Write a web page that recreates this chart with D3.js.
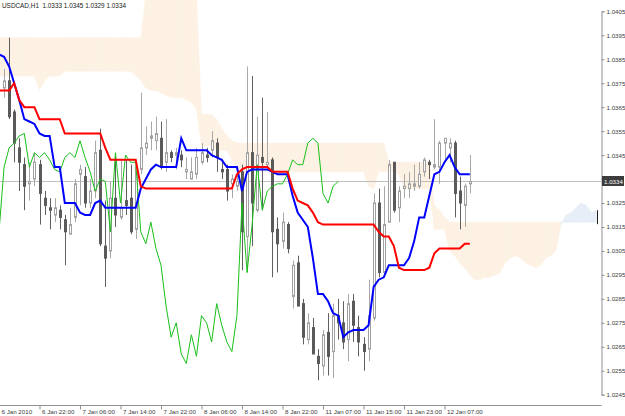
<!DOCTYPE html>
<html>
<head>
<meta charset="utf-8">
<script src="https://cdn.jsdelivr.net/npm/d3@7"></script>
<style>
	body {margin:0; background:#fff;}
	svg {display:block;}
	text {font-family:"Liberation Sans", Arial, sans-serif;}
</style>
</head>
<body>
<svg id="chart" width="625" height="416"></svg>
<script>

//USDCAD H1 candles, bar 1 .. 93
var firstBar = 1;
var opens = [1.0373,1.0376,1.0363,1.0348,1.0341,1.0333,1.0335,1.0341,1.0327,1.0323,1.0320,1.0322,1.0318,1.0312,1.0319,1.0337,1.0336,1.0325,1.0330,1.0347,1.0307,1.0305,1.0327,1.0319,1.0326,1.0327,1.0314,1.0339,1.0348,1.0352,1.0351,1.0352,1.0342,1.0346,1.0345,1.0345,1.0338,1.0335,1.0337,1.0342,1.0345,1.0347,1.0350,1.0339,1.0339,1.0333,1.0332,1.0338,1.0311,1.0346,1.0322,1.0344,1.0341,1.0343,1.0314,1.0309,1.0316,1.0286,1.0300,1.0283,1.0268,1.0273,1.0261,1.0257,1.0271,1.0263,1.0278,1.0275,1.0268,1.0284,1.0273,1.0266,1.0264,1.0277,1.0325,1.0296,1.0317,1.0342,1.0323,1.0331,1.0331,1.0332,1.0332,1.0338,1.0342,1.0340,1.0340,1.0350,1.0348,1.0350,1.0330,1.0324,1.0333];
var highs = [1.0381,1.0394,1.0364,1.0352,1.0344,1.0342,1.0346,1.0343,1.0330,1.0327,1.0327,1.0324,1.0320,1.0323,1.0335,1.0341,1.0340,1.0335,1.0351,1.0356,1.0326,1.0334,1.0345,1.0343,1.0343,1.0341,1.0342,1.0371,1.0357,1.0359,1.0361,1.0359,1.0360,1.0347,1.0348,1.0347,1.0344,1.0344,1.0348,1.0350,1.0348,1.0355,1.0352,1.0343,1.0341,1.0337,1.0338,1.0341,1.0382,1.0378,1.0361,1.0369,1.0363,1.0344,1.0319,1.0321,1.0317,1.0301,1.0303,1.0285,1.0279,1.0277,1.0264,1.0272,1.0279,1.0283,1.0285,1.0284,1.0287,1.0287,1.0278,1.0269,1.0293,1.0329,1.0331,1.0332,1.0343,1.0342,1.0332,1.0337,1.0338,1.0341,1.0342,1.0344,1.0343,1.0360,1.0351,1.0352,1.0352,1.0351,1.0336,1.0333,1.0345];
var lows = [1.0369,1.0360,1.0342,1.0330,1.0322,1.0326,1.0332,1.0316,1.0320,1.0314,1.0317,1.0314,1.0299,1.0312,1.0317,1.0324,1.0323,1.0323,1.0327,1.0307,1.0290,1.0302,1.0315,1.0318,1.0320,1.0312,1.0310,1.0337,1.0345,1.0347,1.0347,1.0339,1.0338,1.0342,1.0339,1.0340,1.0335,1.0335,1.0335,1.0341,1.0342,1.0344,1.0338,1.0335,1.0326,1.0327,1.0330,1.0297,1.0296,1.0307,1.0321,1.0322,1.0340,1.0294,1.0296,1.0306,1.0304,1.0281,1.0282,1.0266,1.0266,1.0262,1.0251,1.0253,1.0253,1.0252,1.0268,1.0264,1.0259,1.0267,1.0261,1.0255,1.0259,1.0276,1.0294,1.0294,1.0317,1.0321,1.0317,1.0327,1.0327,1.0330,1.0331,1.0336,1.0335,1.0339,1.0333,1.0343,1.0342,1.0319,1.0314,1.0315,1.0329];
var closes = [1.0376,1.0361,1.0350,1.0342,1.0332,1.0334,1.0342,1.0329,1.0324,1.0322,1.0323,1.0319,1.0313,1.0316,1.0333,1.0339,1.0325,1.0330,1.0346,1.0308,1.0302,1.0327,1.0320,1.0323,1.0324,1.0313,1.0340,1.0348,1.0350,1.0353,1.0354,1.0340,1.0346,1.0344,1.0346,1.0343,1.0339,1.0338,1.0344,1.0346,1.0344,1.0351,1.0344,1.0338,1.0330,1.0335,1.0334,1.0313,1.0346,1.0325,1.0345,1.0342,1.0342,1.0313,1.0308,1.0317,1.0306,1.0299,1.0282,1.0269,1.0275,1.0262,1.0258,1.0270,1.0261,1.0278,1.0275,1.0267,1.0283,1.0274,1.0267,1.0263,1.0278,1.0325,1.0296,1.0316,1.0341,1.0322,1.0330,1.0332,1.0333,1.0333,1.0337,1.0343,1.0341,1.0341,1.0350,1.0352,1.0350,1.0329,1.0325,1.0332,1.0334];

//ichimoku lines, bar 0 ..
var tenkan = [1.0387,1.0386,1.0382,1.0375,1.0368,1.0360,1.0359,1.0358,1.0354,1.0353,1.0353,1.0340,1.0340,1.0325,1.0325,1.0325,1.0321,1.0320,1.0320,1.0325,1.0326,1.0323,1.0323,1.0323,1.0323,1.0323,1.0323,1.0323,1.0331,1.0335,1.0339,1.0341,1.0340,1.0340,1.0340,1.0340,1.0352,1.0347,1.0347,1.0347,1.0347,1.0347,1.0345,1.0344,1.0343,1.0340,1.0340,1.0340,1.0330,1.0338,1.0339,1.0339,1.0339,1.0339,1.0338,1.0337,1.0337,1.0337,1.0328,1.0321,1.0318,1.0315,1.0302,1.0287,1.0287,1.0284,1.0279,1.0278,1.0269,1.0271,1.0272,1.0272,1.0272,1.0274,1.0290,1.0293,1.0294,1.0299,1.0299,1.0299,1.0299,1.0302,1.0309,1.0319,1.0319,1.0328,1.0337,1.0338,1.0342,1.0345,1.0340,1.0337,1.0337,1.0337];
var kijun = [1.0372,1.0372,1.0372,1.0375,1.0368,1.0365,1.0365,1.0365,1.0360,1.0360,1.0360,1.0360,1.0360,1.0354,1.0354,1.0354,1.0354,1.0354,1.0354,1.0354,1.0354,1.0348,1.0343,1.0343,1.0343,1.0343,1.0343,1.0343,1.0332,1.0331,1.0331,1.0331,1.0331,1.0331,1.0331,1.0331,1.0331,1.0331,1.0331,1.0331,1.0331,1.0331,1.0331,1.0331,1.0331,1.0331,1.0331,1.0337,1.0339,1.0340,1.0340,1.0340,1.0340,1.0340,1.0338,1.0338,1.0338,1.0338,1.0331,1.0326,1.0325,1.0324,1.0321,1.0317,1.0316,1.0316,1.0316,1.0316,1.0316,1.0316,1.0316,1.0316,1.0316,1.0316,1.0316,1.0313,1.0311,1.0311,1.0307,1.0298,1.0297,1.0297,1.0297,1.0297,1.0297,1.0298,1.0304,1.0306,1.0306,1.0306,1.0306,1.0306,1.0308,1.0308];
var chikou = [1.0313,1.0340,1.0348,1.0350,1.0353,1.0354,1.0340,1.0346,1.0344,1.0346,1.0343,1.0339,1.0338,1.0344,1.0346,1.0344,1.0351,1.0344,1.0338,1.0330,1.0335,1.0334,1.0313,1.0346,1.0325,1.0345,1.0342,1.0342,1.0313,1.0308,1.0317,1.0306,1.0299,1.0282,1.0269,1.0275,1.0262,1.0258,1.0270,1.0261,1.0278,1.0275,1.0267,1.0283,1.0274,1.0267,1.0263,1.0278,1.0325,1.0296,1.0316,1.0341,1.0322,1.0330,1.0332,1.0333,1.0333,1.0337,1.0343,1.0341,1.0341,1.0350,1.0352,1.0350,1.0329,1.0325,1.0332,1.0334];
//cloud spans, bar 0 .. 118 (shifted 26 ahead)
var senkouA = [1.0378,1.0378,1.0378,1.0378,1.0378,1.0378,1.0378,1.0378,1.0372,1.0376,1.0378,1.0378,1.0378,
	1.0380,1.0380,1.0380,1.0380,1.0380,1.0380,1.0380,1.0380,1.0380,1.0380,1.0380,1.0380,1.0380,1.0380,1.0378,1.0376,
	1.0373,1.0372,1.0372,1.0371,1.0370,1.0369,1.0369,1.0369,1.0368,1.0367,1.0364,
	1.0349,1.0349,1.0349,1.0347,1.0347,1.0347,1.0343,
	1.0338,1.0338,1.0338,1.0338,1.0338,1.0338,1.0338,1.0338,1.0338,1.0338,1.0338,1.0338,1.0338,
	1.0338,1.0338,1.0338,1.0338,1.0338,1.0338,1.0338,1.0338,1.0338,1.0338,1.0338,1.0338,1.0338,
	1.0332,1.0331,1.0338,1.0338,1.0338,1.0338,1.0337,
	1.0331,1.0331,1.0331,1.0331,1.0331,1.0331,1.0314,1.0314,1.0314,
	1.0305,1.0303,1.0300,1.0298,1.0295,1.0293,1.0293,1.0294,1.0294,1.0295,1.0296,1.0300,1.0302,1.0303,1.0302,
	1.0300,1.0299,1.0298,1.0299,1.0302,1.0303,1.0305,1.0316,1.0320,1.0321,1.0323,1.0325,1.0324,1.0321,1.0322];
var senkouB = [1.0394,1.0394,1.0394,1.0394,1.0394,1.0394,1.0394,1.0394,1.0394,1.0394,1.0394,1.0394,1.0394,
	1.0394,1.0394,1.0394,1.0394,1.0394,1.0394,1.0394,1.0394,1.0394,1.0394,1.0394,1.0394,1.0394,1.0394,1.0394,1.0394,
	1.0412,1.0412,1.0412,1.0412,1.0412,1.0412,1.0412,1.0412,1.0412,1.0412,1.0412,
	1.0362,1.0362,1.0362,1.0360,1.0356,1.0353,1.0351,
	1.0350,1.0350,1.0350,1.0350,1.0350,1.0350,1.0350,1.0350,1.0350,1.0350,1.0350,1.0350,1.0350,
	1.0350,1.0350,1.0350,1.0350,1.0350,1.0350,1.0350,1.0350,1.0350,1.0350,1.0350,1.0350,1.0350,
	1.0350,1.0350,1.0350,1.0350,1.0342,1.0342,1.0342,
	1.0342,1.0342,1.0342,1.0342,1.0342,1.0342,1.0324,1.0322,1.0319,
	1.0317,1.0317,1.0317,1.0317,1.0317,1.0317,1.0317,1.0317,1.0317,1.0317,1.0317,1.0317,1.0317,1.0317,1.0317,
	1.0317,1.0317,1.0317,1.0317,1.0317,1.0317,1.0317,1.0317,1.0317,1.0317,1.0317,1.0317,1.0317,1.0317,1.0317];

var priceTicks = [1.0405,1.0395,1.0385,1.0375,1.0365,1.0355,1.0345,1.0335,1.0325,1.0315,1.0305,1.0295,1.0285,1.0275,1.0265,1.0255,1.0245];
var timeBars = [0,8,16,24,32,40,48,56,64,72,80,88];
var timeLabels = ["6 Jan 2010","6 Jan 22:00","7 Jan 06:00","7 Jan 14:00","7 Jan 22:00","8 Jan 06:00","8 Jan 14:00","8 Jan 22:00","11 Jan 07:00","11 Jan 15:00","11 Jan 23:00","12 Jan 07:00"];
var title = "USDCAD,H1  1.0333 1.0345 1.0329 1.0334";
var lastPrice = 1.0334;

var plotW = 601, plotH = 405;
var svg = d3.select('#chart');

var x = d3.scaleLinear().domain([0, 8]).range([-1, 39.5]);
var y = d3.scaleLinear().domain([1.0245, 1.0405]).range([394.7, 11.3]);

svg.append('defs').append('clipPath').attr('id', 'plot')
	.append('rect').attr('x', 0).attr('y', 0).attr('width', plotW).attr('height', plotH);

var plot = svg.append('g').attr('clip-path', 'url(#plot)');

//cloud, one piece per bar step
var cloud = d3.range(senkouA.length - 1).map(function(i) {
	return {i: i, up: senkouA[i] + senkouA[i+1] > senkouB[i] + senkouB[i+1]};
});
plot.append('g').selectAll('path')
	.data(cloud)
	.enter().append('path')
	.attr('d', function(d) {
		var i = d.i;
		return 'M' + x(i) + ',' + y(senkouA[i]) + 'L' + x(i+1) + ',' + y(senkouA[i+1]) +
			'L' + x(i+1) + ',' + y(senkouB[i+1]) + 'L' + x(i) + ',' + y(senkouB[i]) + 'Z';
	})
	.attr('fill', function(d) { return d.up ? '#e8eef7' : '#fdf1e4'; })
	.attr('stroke', function(d) { return d.up ? '#e8eef7' : '#fdf1e4'; })
	.attr('stroke-width', 0.6);

//last cloud bar marker
var lastCloud = senkouA.length - 1;
plot.append('line')
	.attr('x1', Math.round(x(lastCloud)) + 1.5).attr('x2', Math.round(x(lastCloud)) + 1.5)
	.attr('y1', y(senkouA[lastCloud])).attr('y2', y(senkouB[lastCloud]) + 2)
	.attr('stroke', '#202020').attr('stroke-width', 1);

//current price line
plot.append('line')
	.attr('x1', 0).attr('x2', plotW)
	.attr('y1', Math.round(y(lastPrice)) + 0.5).attr('y2', Math.round(y(lastPrice)) + 0.5)
	.attr('stroke', '#c0c0c0').attr('stroke-width', 1);

//candles
var bars = d3.range(opens.length).map(function(k) {
	return {i: k + firstBar, o: opens[k], h: highs[k], l: lows[k], c: closes[k]};
});
var candle = plot.append('g').selectAll('g')
	.data(bars)
	.enter().append('g');
candle.append('line')
	.attr('x1', function(d) { return Math.round(x(d.i)) + 0.5; })
	.attr('x2', function(d) { return Math.round(x(d.i)) + 0.5; })
	.attr('y1', function(d) { return y(d.h); })
	.attr('y2', function(d) { return y(d.l); })
	.attr('stroke', function(d) { return d.c >= d.o ? '#a8a8a8' : '#606060'; });
candle.append('rect')
	.attr('x', function(d) { return Math.round(x(d.i)) - 0.5; })
	.attr('y', function(d) { return y(Math.max(d.o, d.c)); })
	.attr('width', 2)
	.attr('height', function(d) { return Math.max(1, Math.abs(y(d.o) - y(d.c))); })
	.attr('fill', function(d) { return d.c >= d.o ? '#ffffff' : '#5a5a5a'; })
	.attr('stroke', function(d) { return d.c >= d.o ? '#a0a0a0' : '#5a5a5a'; })
	.attr('stroke-width', 1);

//ichimoku lines
var line = d3.line()
	.x(function(d, i) { return x(i); })
	.y(function(d) { return y(d); });
plot.append('path').attr('d', line(chikou))
	.attr('fill', 'none').attr('stroke', '#19c019').attr('stroke-width', 1);
plot.append('path').attr('d', line(tenkan))
	.attr('fill', 'none').attr('stroke', '#0000ff').attr('stroke-width', 2);
plot.append('path').attr('d', line(kijun))
	.attr('fill', 'none').attr('stroke', '#ff0000').attr('stroke-width', 2);

//price axis
var yAxis = svg.append('g')
	.attr('transform', 'translate(' + (plotW + 0.5) + ',0)')
	.call(d3.axisRight(y).tickValues(priceTicks).tickSize(3).tickFormat(d3.format('.4f')));
yAxis.select('.domain').attr('stroke', '#909090');
yAxis.selectAll('line').attr('stroke', '#909090');
yAxis.selectAll('text').attr('x', 5).attr('fill', '#404040').style('font-size', '6.2px');
//the price label covers this one
yAxis.selectAll('text').filter(function(d) { return Math.abs(d - lastPrice) < 0.00025; }).remove();

//time axis
var xAxis = svg.append('g')
	.attr('transform', 'translate(0,' + (plotH + 0.5) + ')')
	.call(d3.axisBottom(x).tickValues(timeBars).tickSize(4).tickFormat(function(d, k) { return timeLabels[k]; }));
xAxis.select('.domain').attr('d', 'M0,0H' + (plotW + 0.5)).attr('stroke', '#909090');
xAxis.selectAll('line').attr('stroke', '#909090');
xAxis.selectAll('text').attr('y', 8.5).attr('dy', 0).attr('text-anchor', 'start').attr('x', 2)
	.attr('fill', '#404040').style('font-size', '6.2px');

//price label
var py = Math.round(y(lastPrice));
svg.append('rect').attr('x', plotW + 1).attr('y', py - 5).attr('width', 22).attr('height', 10).attr('fill', '#3c3c3c');
svg.append('text').attr('x', plotW + 3).attr('y', py + 2.5).text(d3.format('.4f')(lastPrice))
	.attr('fill', '#ffffff').style('font-size', '6.2px');

//symbol header
svg.append('text').attr('x', 2).attr('y', 8).text(title)
	.attr('fill', '#202020').style('font-size', '6.4px').style('white-space', 'pre');

</script>
</body>
</html>
